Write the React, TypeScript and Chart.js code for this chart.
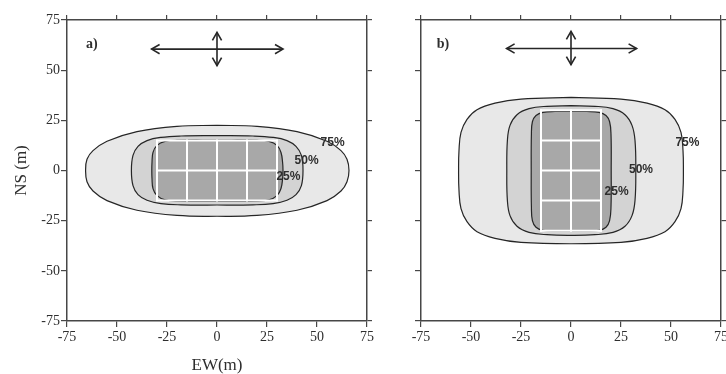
import React, { useEffect, useRef } from 'react';
import { Chart, registerables } from 'chart.js';

Chart.register(...registerables);

type Pt = [number, number];

// Shared axis setup (metres)
const AXIS_MIN = -75;
const AXIS_MAX = 75;
const tickValues = [-75, -50, -25, 0, 25, 50, 75];

// Contour levels, outermost first
const contourLevels = ['75%', '50%', '25%'];
const contourFills = ['#e8e8e8', '#d3d3d3', '#a8a8a8'];

// ---- Panel a) : 4 x 2 grid, long axis EW ----
const a75: Pt[] = [
  [0, 22.5], [20, 22], [40, 19.4], [55, 14.6], [62, 9.9], [65, 5.6], [66, 0],
  [65, -5.6], [62, -10.2], [55, -15], [40, -19.8], [20, -22.4], [0, -22.8],
  [-20, -22.4], [-40, -19.8], [-55, -15], [-62, -10.2], [-65, -5.6], [-65.7, 0],
  [-65, 5.6], [-62, 9.9], [-55, 14.6], [-40, 19.4], [-20, 22], [0, 22.5],
];
const a50: Pt[] = [
  [0, 17.4], [18, 17.2], [28, 16.5], [35, 14.9], [39.5, 12], [42.2, 7.5], [43, 0],
  [42.2, -7.5], [39.5, -12], [35, -14.8], [28, -16.5], [18, -17.1], [0, -17.2],
  [-18, -17.1], [-28, -16.5], [-35, -14.8], [-39.5, -12], [-42, -7.5], [-42.8, 0],
  [-42, 7.5], [-39.5, 12], [-35, 14.9], [-28, 16.5], [-18, 17.2], [0, 17.4],
];
const a25: Pt[] = [
  [0, 15.2], [20, 15.1], [26, 14.5], [30, 12.5], [32, 9], [32.8, 4], [33, 0],
  [32.8, -4], [32, -9], [30, -12.5], [26, -14.6], [20, -15.3], [0, -15.4],
  [-20, -15.3], [-26, -14.6], [-30, -12.5], [-32, -9], [-32.5, -4], [-32.6, 0],
  [-32.5, 4], [-32, 9], [-30, 12.5], [-26, 14.5], [-20, 15.1], [0, 15.2],
];
const aGridCols = [-30, -15, 0, 15, 30];
const aGridRows = [-15, 0, 15];
const aArrowEW = [-32.7, 33];
const aArrowY = 60.5;
const aArrowNS = [52.2, 68.8];
const aLabelPos: Pt[] = [[57.8, 14], [44.8, 4.7], [35.7, -3.3]];
const aTagPos: Pt = [-62.6, 63];

// ---- Panel b) : 2 x 4 grid, long axis NS ----
const b75: Pt[] = [
  [0, 36.4], [25, 35.6], [38, 33.6], [47, 30.3], [52, 25.5], [55, 19], [56, 10], [56.2, 0],
  [56, -10], [55, -19], [52, -25.5], [47, -30.5], [38, -33.8], [25, -35.8], [0, -36.5],
  [-25, -35.8], [-38, -33.8], [-47, -30.5], [-52, -25.5], [-55, -19], [-56, -10], [-56.2, 0],
  [-56, 10], [-55, 19], [-52, 25.5], [-47, 30.3], [-38, 33.6], [-25, 35.6], [0, 36.4],
];
const b50: Pt[] = [
  [0, 32.3], [12, 32], [21, 30.8], [27, 27.8], [30.5, 22.5], [32, 15], [32.4, 0],
  [32, -15], [30.5, -22.5], [27, -27.8], [21, -30.8], [12, -32], [0, -32.3],
  [-12, -32], [-21, -30.8], [-27, -27.8], [-30.5, -22.5], [-31.8, -15], [-32.1, 0],
  [-31.8, 15], [-30.5, 22.5], [-27, 27.8], [-21, 30.8], [-12, 32], [0, 32.3],
];
const b25: Pt[] = [
  [0, 29.4], [8, 29.4], [14, 29], [17.5, 27.4], [19.3, 24.3], [20, 18], [20.1, 0],
  [20, -18], [19.3, -25], [17.5, -28.3], [14, -29.8], [8, -30.2], [0, -30.2],
  [-8, -30.2], [-14, -29.8], [-17.5, -28.3], [-19.3, -25], [-19.8, -18], [-19.9, 0],
  [-19.8, 18], [-19.3, 24.3], [-17.5, 27.4], [-14, 29], [-8, 29.4], [0, 29.4],
];
const bGridCols = [-15, 0, 15];
const bGridRows = [-30, -15, 0, 15, 30];
const bArrowEW = [-32.2, 32.8];
const bArrowY = 60.8;
const bArrowNS = [52.7, 69.3];
const bLabelPos: Pt[] = [[58.2, 13.8], [35, 0.2], [22.8, -10.8]];
const bTagPos: Pt = [-64, 63];

// Styling
const AXIS_COLOR = '#474747';
const TEXT_COLOR = '#2e2e2e';
const LINE_COLOR = '#262626';
const SERIF = '"Liberation Serif", "Times New Roman", serif';
const SANS = '"Liberation Sans", Arial, sans-serif';
const HEAD_LEN = 4;
const HEAD_HALF = 2.3;

interface Panel {
  tag: string;
  tagPos: Pt;
  contours: Pt[][];
  labelPos: Pt[];
  cols: number[];
  rows: number[];
  arrowEW: number[];
  arrowY: number;
  arrowNS: number[];
  width: number;
  leftW: number;
  rightW: number;
  showYLabels: boolean;
  xTitle: string;
  yTitle: string;
}

const panelA: Panel = {
  tag: 'a)', tagPos: aTagPos, contours: [a75, a50, a25], labelPos: aLabelPos,
  cols: aGridCols, rows: aGridRows, arrowEW: aArrowEW, arrowY: aArrowY, arrowNS: aArrowNS,
  width: 380, leftW: 67, rightW: 13, showYLabels: true, xTitle: 'EW(m)', yTitle: 'NS (m)',
};
const panelB: Panel = {
  tag: 'b)', tagPos: bTagPos, contours: [b75, b50, b25], labelPos: bLabelPos,
  cols: bGridCols, rows: bGridRows, arrowEW: bArrowEW, arrowY: bArrowY, arrowNS: bArrowNS,
  width: 346, leftW: 41, rightW: 5, showYLabels: false, xTitle: '', yTitle: '',
};

const toXY = (pts: Pt[]) => pts.map(([x, y]) => ({ x, y }));

const segment = (pts: Pt[], color: string, width: number, order: number, cap = 'butt') => ({
  data: toXY(pts),
  showLine: true,
  fill: false,
  borderColor: color,
  borderWidth: width,
  borderCapStyle: cap,
  borderJoinStyle: 'miter',
  pointRadius: 0,
  tension: 0,
  order,
});

function buildDatasets(p: Panel) {
  const ds: any[] = [];
  p.contours.forEach((pts, i) => {
    ds.push({
      data: toXY(pts),
      showLine: true,
      fill: 'shape',
      backgroundColor: contourFills[i],
      borderColor: LINE_COLOR,
      borderWidth: 1.2,
      pointRadius: 0,
      tension: 0.4,
      order: 10 - i,
    });
  });
  // white cell grid of the array
  const bottom = p.rows[0];
  const top = p.rows[p.rows.length - 1];
  const left = p.cols[0];
  const right = p.cols[p.cols.length - 1];
  p.cols.forEach((c) => ds.push(segment([[c, bottom], [c, top]], '#ffffff', 2, 3, 'square')));
  p.rows.forEach((r) => ds.push(segment([[left, r], [right, r]], '#ffffff', 2, 3, 'square')));
  // direction arrows
  const [x0, x1] = p.arrowEW;
  const y = p.arrowY;
  const [y0, y1] = p.arrowNS;
  ds.push(segment([[x0, y], [x1, y]], LINE_COLOR, 1.6, 1));
  ds.push(segment([[x0 + HEAD_LEN, y + HEAD_HALF], [x0, y], [x0 + HEAD_LEN, y - HEAD_HALF]], LINE_COLOR, 1.6, 1));
  ds.push(segment([[x1 - HEAD_LEN, y + HEAD_HALF], [x1, y], [x1 - HEAD_LEN, y - HEAD_HALF]], LINE_COLOR, 1.6, 1));
  ds.push(segment([[0, y0], [0, y1]], LINE_COLOR, 1.6, 1));
  ds.push(segment([[-HEAD_HALF, y0 + HEAD_LEN], [0, y0], [HEAD_HALF, y0 + HEAD_LEN]], LINE_COLOR, 1.6, 1));
  ds.push(segment([[-HEAD_HALF, y1 - HEAD_LEN], [0, y1], [HEAD_HALF, y1 - HEAD_LEN]], LINE_COLOR, 1.6, 1));
  return ds;
}

const panelText = {
  id: 'panelText',
  afterDatasetsDraw(chart: any, _args: any, opts: any) {
    const { ctx } = chart;
    const xs = chart.scales.x;
    const ys = chart.scales.y;
    ctx.save();
    ctx.fillStyle = TEXT_COLOR;
    ctx.textAlign = 'center';
    ctx.textBaseline = 'middle';
    ctx.font = `bold 12px ${SANS}`;
    (opts.labelPos as Pt[]).forEach(([x, y], i) => {
      ctx.fillText(contourLevels[i], xs.getPixelForValue(x), ys.getPixelForValue(y));
    });
    ctx.font = `bold 14px ${SERIF}`;
    ctx.fillText(opts.tag, xs.getPixelForValue(opts.tagPos[0]), ys.getPixelForValue(opts.tagPos[1]));
    ctx.restore();
  },
};

function buildScales(p: Panel) {
  const setTicks = (s: any) => {
    s.ticks = tickValues.map((v) => ({ value: v }));
  };
  const grid = (len: number) => ({
    display: true,
    drawOnChartArea: false,
    drawTicks: true,
    tickLength: len,
    color: AXIS_COLOR,
    lineWidth: 1.2,
  });
  const border = { display: true, color: AXIS_COLOR, width: 1.5 };
  const tickFont = { family: SERIF, size: 14 };
  return {
    x: {
      type: 'linear', position: 'bottom', min: AXIS_MIN, max: AXIS_MAX,
      afterBuildTicks: setTicks,
      ticks: { display: true, font: tickFont, color: TEXT_COLOR, padding: 2, maxRotation: 0, autoSkip: false, callback: (v: number) => String(v) },
      grid: grid(6), border,
      title: { display: !!p.xTitle, text: p.xTitle, color: TEXT_COLOR, font: { family: SERIF, size: 17, lineHeight: 1 }, padding: { top: 0, bottom: 0 } },
      afterFit: (s: any) => { s.height = 53; s.paddingLeft = 0; s.paddingRight = 0; },
    },
    x2: {
      type: 'linear', position: 'top', min: AXIS_MIN, max: AXIS_MAX,
      afterBuildTicks: setTicks,
      ticks: { display: false },
      grid: grid(5), border,
      afterFit: (s: any) => { s.height = 20; s.paddingLeft = 0; s.paddingRight = 0; },
    },
    y: {
      type: 'linear', position: 'left', min: AXIS_MIN, max: AXIS_MAX,
      afterBuildTicks: setTicks,
      ticks: { display: p.showYLabels, font: tickFont, color: TEXT_COLOR, padding: 1, callback: (v: number) => String(v) },
      grid: grid(6), border,
      title: { display: !!p.yTitle, text: p.yTitle, color: TEXT_COLOR, font: { family: SERIF, size: 17, lineHeight: 1 }, padding: { top: 13, bottom: 0 } },
      afterFit: (s: any) => { s.width = p.leftW; s.paddingTop = 0; s.paddingBottom = 0; },
    },
    y2: {
      type: 'linear', position: 'right', min: AXIS_MIN, max: AXIS_MAX,
      afterBuildTicks: setTicks,
      ticks: { display: false },
      grid: grid(5), border,
      afterFit: (s: any) => { s.width = p.rightW; s.paddingTop = 0; s.paddingBottom = 0; },
    },
  };
}

function PanelChart({ panel, left }: { panel: Panel; left: number }) {
  const ref = useRef<HTMLCanvasElement>(null);
  useEffect(() => {
    if (!ref.current) return;
    const chart = new Chart(ref.current, {
      type: 'scatter',
      data: { datasets: buildDatasets(panel) },
      options: {
        responsive: false,
        animation: false,
        devicePixelRatio: 1,
        events: [],
        layout: { padding: 0 },
        scales: buildScales(panel) as any,
        plugins: {
          legend: { display: false },
          tooltip: { enabled: false },
          panelText: { tag: panel.tag, tagPos: panel.tagPos, labelPos: panel.labelPos },
        } as any,
      },
      plugins: [panelText],
    } as any);
    return () => chart.destroy();
  }, [panel]);
  return (
    <canvas
      ref={ref}
      width={panel.width}
      height={374}
      style={{ position: 'absolute', left, top: 0, width: panel.width, height: 374, display: 'block' }}
    />
  );
}

export default function App() {
  return (
    <div style={{ position: 'absolute', left: 0, top: 0, width: 726, height: 374, background: '#ffffff' }}>
      <PanelChart panel={panelA} left={0} />
      <PanelChart panel={panelB} left={380} />
    </div>
  );
}
